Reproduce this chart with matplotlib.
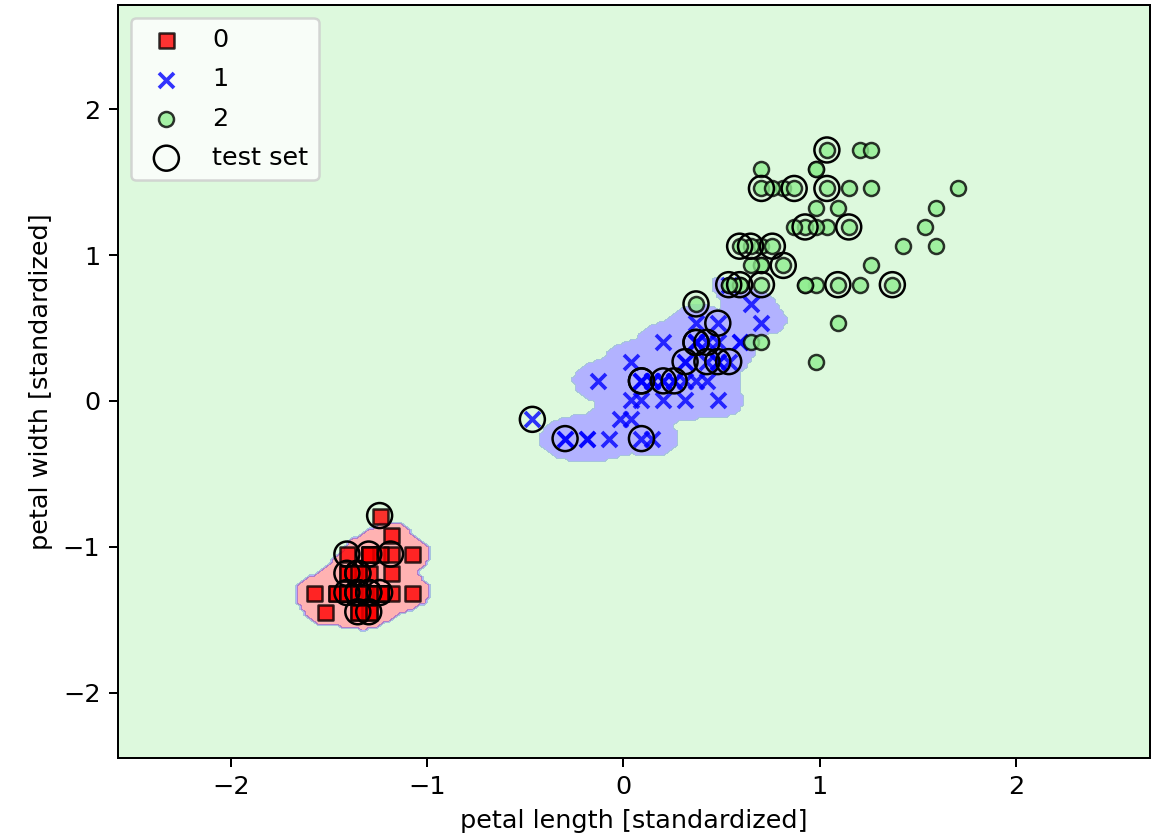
import numpy as np
import matplotlib
matplotlib.use('Agg')
import matplotlib.pyplot as plt
from matplotlib.colors import ListedColormap

# petal length / petal width (cm) per class
len_0 = [1.4, 1.4, 1.3, 1.5, 1.4, 1.7, 1.4, 1.5, 1.4, 1.5, 1.5, 1.6, 1.4, 1.1, 1.2, 1.5, 1.3, 1.4, 1.7, 1.5,
         1.7, 1.5, 1.0, 1.7, 1.9, 1.6, 1.6, 1.5, 1.4, 1.6, 1.6, 1.5, 1.5, 1.4, 1.5, 1.2, 1.3, 1.4, 1.3, 1.5,
         1.3, 1.3, 1.3, 1.6, 1.9, 1.4, 1.6, 1.4, 1.5, 1.4]
wid_0 = [0.2, 0.2, 0.2, 0.2, 0.2, 0.4, 0.3, 0.2, 0.2, 0.1, 0.2, 0.2, 0.1, 0.1, 0.2, 0.4, 0.4, 0.3, 0.3, 0.3,
         0.2, 0.4, 0.2, 0.5, 0.2, 0.2, 0.4, 0.2, 0.2, 0.2, 0.2, 0.4, 0.1, 0.2, 0.2, 0.2, 0.2, 0.1, 0.2, 0.2,
         0.3, 0.3, 0.2, 0.6, 0.4, 0.3, 0.2, 0.2, 0.2, 0.2]
len_1 = [4.7, 4.5, 4.9, 4.0, 4.6, 4.5, 4.7, 3.3, 4.6, 3.9, 3.5, 4.2, 4.0, 4.7, 3.6, 4.4, 4.5, 4.1, 4.5, 3.9,
         4.8, 4.0, 4.9, 4.7, 4.3, 4.4, 4.8, 5.0, 4.5, 3.5, 3.8, 3.7, 3.9, 5.1, 4.5, 4.5, 4.7, 4.4, 4.1, 4.0,
         4.4, 4.6, 4.0, 3.3, 4.2, 4.2, 4.2, 4.3, 3.0, 4.1]
wid_1 = [1.4, 1.5, 1.5, 1.3, 1.5, 1.3, 1.6, 1.0, 1.3, 1.4, 1.0, 1.5, 1.0, 1.4, 1.3, 1.4, 1.5, 1.0, 1.5, 1.1,
         1.8, 1.3, 1.5, 1.2, 1.3, 1.4, 1.4, 1.7, 1.5, 1.0, 1.1, 1.0, 1.2, 1.6, 1.5, 1.6, 1.5, 1.3, 1.3, 1.3,
         1.2, 1.4, 1.2, 1.0, 1.3, 1.2, 1.3, 1.3, 1.1, 1.3]
len_2 = [6.0, 5.1, 5.9, 5.6, 5.8, 6.6, 4.5, 6.3, 5.8, 6.1, 5.1, 5.3, 5.5, 5.0, 5.1, 5.3, 5.5, 6.7, 6.9, 5.0,
         5.7, 4.9, 6.7, 4.9, 5.7, 6.0, 4.8, 4.9, 5.6, 5.8, 6.1, 6.4, 5.6, 5.1, 5.6, 6.1, 5.6, 5.5, 4.8, 5.4,
         5.6, 5.1, 5.1, 5.9, 5.7, 5.2, 5.0, 5.2, 5.4, 5.1]
wid_2 = [2.5, 1.9, 2.1, 1.8, 2.2, 2.1, 1.7, 1.8, 1.8, 2.5, 2.0, 1.9, 2.1, 2.0, 2.4, 2.3, 1.8, 2.2, 2.3, 1.5,
         2.3, 2.0, 2.0, 1.8, 2.1, 1.8, 1.8, 1.8, 2.1, 1.6, 1.9, 2.0, 2.2, 1.5, 1.4, 2.3, 2.4, 1.8, 1.8, 2.1,
         2.4, 2.3, 1.9, 2.3, 2.5, 2.3, 1.9, 2.0, 2.3, 1.8]

# which samples are circled as test set
test_0 = [43, 16, 15, 5, 6, 0, 3, 11, 12, 9, 2, 40, 1, 7, 17]
test_1 = [48, 7, 3, 12, 6, 1, 4, 15, 0, 26, 44, 24, 16, 21, 41]
test_2 = [44, 41, 48, 20, 12, 21, 13, 47, 11, 23, 38, 49, 6, 2, 8, 7]

# standard scaler
len_mean, len_std = 3.835, 1.799
wid_mean, wid_std = 1.196, 0.758

def scale(l, w):
    return np.column_stack([(np.array(l) - len_mean) / len_std,
                            (np.array(w) - wid_mean) / wid_std])

X = [scale(len_0, wid_0), scale(len_1, wid_1), scale(len_2, wid_2)]
tests = [test_0, test_1, test_2]
train = [np.delete(X[i], tests[i], axis=0) for i in range(3)]
X_all = np.vstack(X)
X_test = np.vstack([X[i][tests[i]] for i in range(3)])

# rbf-kernel style decision regions (gamma=100), class 2 is the default
gamma = 100.0
thr = [0.45, 0.2, 0.45]
res = 0.02
x1_min, x1_max = X_all[:, 0].min() - 1, X_all[:, 0].max() + 1
x2_min, x2_max = X_all[:, 1].min() - 1, X_all[:, 1].max() + 1
xx1, xx2 = np.meshgrid(np.arange(x1_min, x1_max, res), np.arange(x2_min, x2_max, res))
grid = np.c_[xx1.ravel(), xx2.ravel()]
scores = []
for i, pts in enumerate(train):
    d2 = ((grid[:, None, :] - pts[None, :, :]) ** 2).sum(axis=2)
    s = np.exp(-gamma * d2).sum(axis=1) / thr[i]
    if i == 2:
        s = s + 1.0
    scores.append(s)
lab = np.argmax(np.vstack(scores), axis=0).reshape(xx1.shape)

markers = ('s', 'x', 'o')
colors = ('red', 'blue', 'lightgreen')
cmap = ListedColormap(colors)

plt.rcParams['font.size'] = 10.2
fig = plt.figure(figsize=(1156 / 180, 839 / 180), dpi=180)
plt.contourf(xx1, xx2, lab, levels=[-0.5, 0.5, 1.5, 2.5], alpha=0.3, cmap=cmap)
plt.xlim(xx1.min(), xx1.max())
plt.ylim(xx2.min(), xx2.max())

for idx in range(3):
    if markers[idx] == 'x':
        plt.scatter(X[idx][:, 0], X[idx][:, 1], alpha=0.8, c=colors[idx],
                    marker=markers[idx], label=str(idx))
    else:
        plt.scatter(X[idx][:, 0], X[idx][:, 1], alpha=0.8, c=colors[idx],
                    marker=markers[idx], label=str(idx), edgecolor='black')

plt.scatter(X_test[:, 0], X_test[:, 1], c='none', edgecolor='black', alpha=1.0,
            linewidth=1, marker='o', s=100, label='test set')

plt.xlabel('petal length [standardized]')
plt.ylabel('petal width [standardized]')
plt.legend(loc='upper left', labelspacing=0.6)
plt.subplots_adjust(left=0.102, right=0.995, bottom=0.097, top=0.994)
plt.savefig('out.png', dpi=180)
